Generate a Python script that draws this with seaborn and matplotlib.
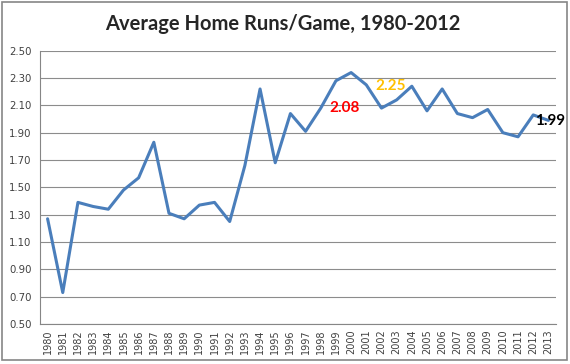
import numpy as np
import pandas as pd
import seaborn as sns
import matplotlib.pyplot as plt
from matplotlib.patches import Rectangle

# --- dados ---
anos = list(range(1980, 2014))
hr_por_jogo = [1.27, 0.73, 1.39, 1.36, 1.34, 1.48, 1.57, 1.83, 1.31, 1.27,
               1.37, 1.39, 1.25, 1.66, 2.22, 1.68, 2.04, 1.91, 2.08, 2.28,
               2.34, 2.25, 2.08, 2.14, 2.24, 2.06, 2.22, 2.04, 2.01, 2.07,
               1.90, 1.87, 2.03, 1.99]
rotulos_txt = ['2.08', '2.25', '1.99']
rotulos_x = [19.6, 22.6, 33.1]
rotulos_y = [2.08, 2.245, 1.985]
rotulos_cor = ['#ff0000', '#ffc000', '#000000']
y_ticks = [0.5, 0.7, 0.9, 1.1, 1.3, 1.5, 1.7, 1.9, 2.1, 2.3, 2.5]

df = pd.DataFrame({'pos': np.arange(len(anos)), 'hr': hr_por_jogo})

sns.set_style('white')
plt.rcParams['font.family'] = ['DejaVu Sans']

fig = plt.figure(figsize=(5.7, 3.64), dpi=100)
ax = fig.add_axes([40 / 570, 1 - 324 / 364, 516 / 570, (324 - 50.7) / 364])

sns.lineplot(data=df, x='pos', y='hr', ax=ax, color='#4a7ebb', linewidth=2.2)

ax.set_xlim(-0.5, len(anos) - 0.5)
ax.set_ylim(0.5, 2.5)
ax.set_yticks(y_ticks)
ax.set_yticklabels([f'{v:.2f}' for v in y_ticks], fontsize=7.3, color='#404040')
ax.set_xticks(df['pos'])
ax.set_xticklabels([str(a) for a in anos], rotation=90, fontsize=7, color='#404040')
ax.set_xticks(np.arange(-0.5, len(anos)), minor=True)
ax.tick_params(axis='x', which='major', length=0, pad=4)
ax.tick_params(axis='x', which='minor', length=4, color='#868686', width=0.8, direction='out')
ax.tick_params(axis='y', length=4, color='#868686', width=0.8, direction='out', pad=2)
ax.set_xlabel('')
ax.set_ylabel('')
ax.grid(axis='y', color='#8c8c8c', linewidth=0.8)
ax.set_axisbelow(True)
for lado in ['top', 'right']:
    ax.spines[lado].set_visible(False)
for lado in ['left', 'bottom']:
    ax.spines[lado].set_color('#868686')
    ax.spines[lado].set_linewidth(0.8)

for txt, x, y, c in zip(rotulos_txt, rotulos_x, rotulos_y, rotulos_cor):
    ax.text(x, y, txt, color=c, fontsize=11, fontweight='bold', family='Lato',
            ha='center', va='center')

fig.text(283 / 570, 1 - 24 / 364, 'Average Home Runs/Game, 1980-2012', ha='center', va='center',
         fontsize=14.5, fontweight='bold', family='Lato')

fig.patches.append(Rectangle((2 / 570, 4 / 364), 565 / 570, 358 / 364, transform=fig.transFigure,
                             fill=False, edgecolor='#868686', linewidth=1.2))

plt.savefig('out.png', dpi=100)
